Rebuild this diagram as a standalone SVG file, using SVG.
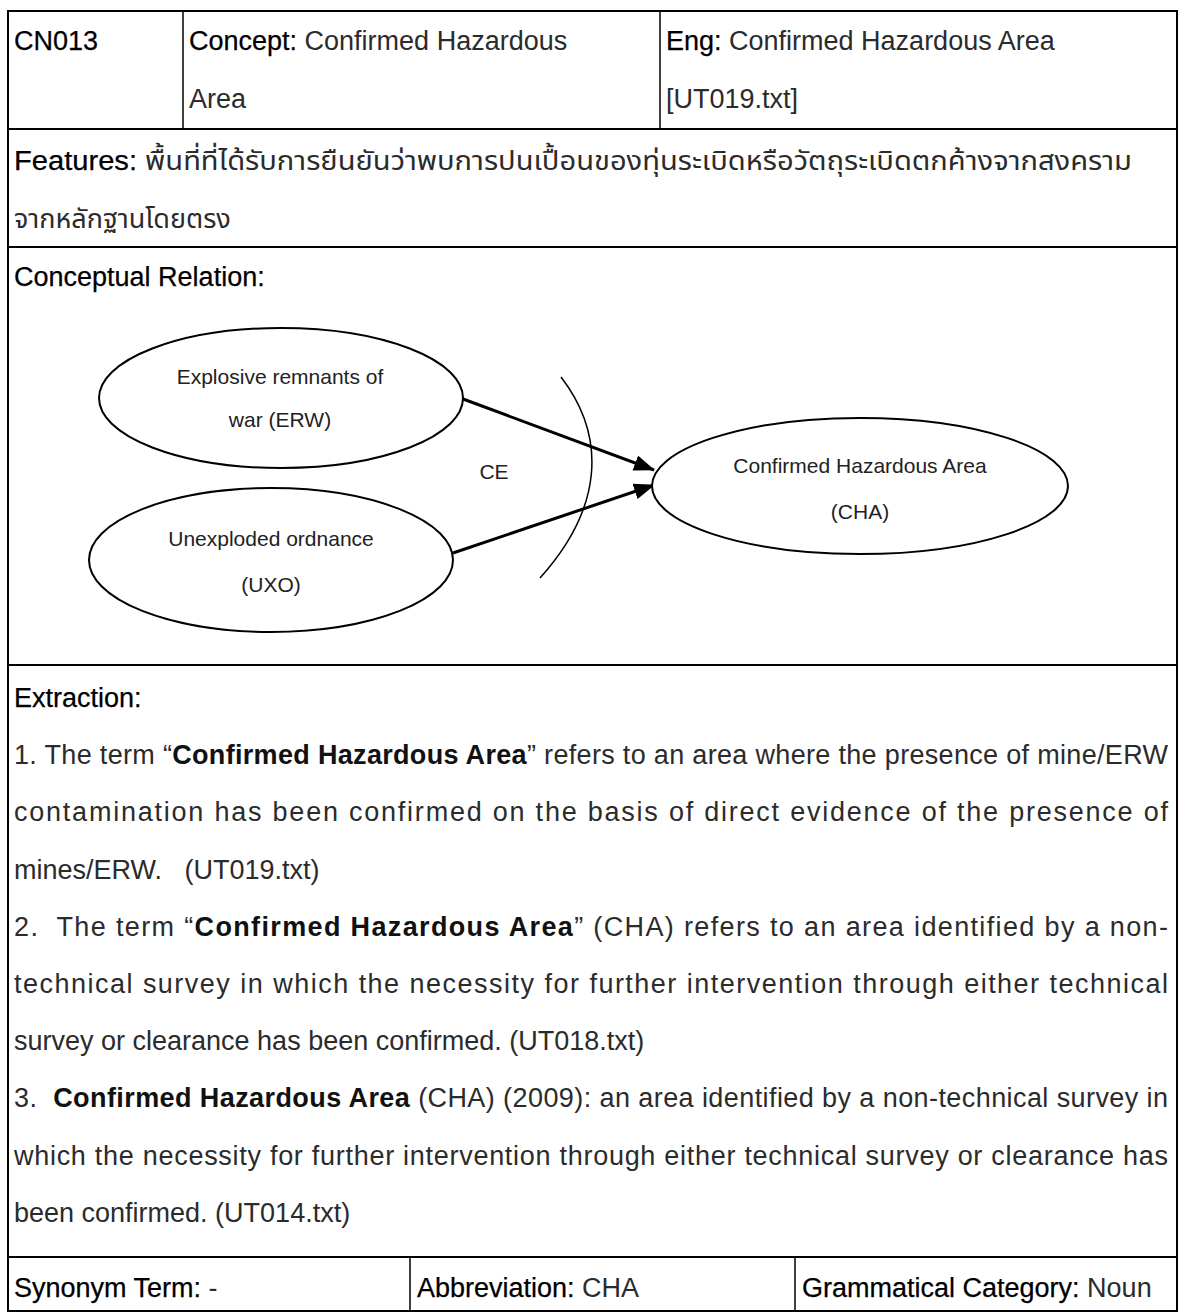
<svg xmlns="http://www.w3.org/2000/svg" width="1180" height="1313" viewBox="0 0 1180 1313">
  <style>
    .txt { font-family: "Liberation Sans", Arial, "Noto Sans Thai", "Noto Sans", "DejaVu Sans", sans-serif; font-size: 27px; fill: #2b2b2b; }
    .lbl { fill: #000; stroke: #000; stroke-width: 0.25; }
    .b { font-weight: bold; fill: #111; }
    .grid { stroke: #000; stroke-width: 2; fill: none; }
    .thin { stroke: #000; stroke-width: 1.5; fill: none; }
    .node ellipse { fill: #fff; stroke: #000; stroke-width: 2; }
    .node text, .mark { font-family: "Liberation Sans", Arial, sans-serif; font-size: 21px; fill: #222; text-anchor: middle; }
    .edge { stroke: #000; stroke-width: 3; fill: none; }
  </style>
  <defs>
    <marker id="arrow" markerUnits="userSpaceOnUse" markerWidth="22" markerHeight="16" refX="20" refY="8" orient="auto">
      <path d="M0,0 L21,8 L0,16 z" fill="#000"/>
    </marker>
  </defs>

  <rect width="1180" height="1313" fill="#fff"/>

  <!-- table frame -->
  <g id="table">
    <line class="grid" x1="8" y1="11" x2="1177" y2="11"/>
    <line class="grid" x1="8" y1="129" x2="1177" y2="129"/>
    <line class="grid" x1="8" y1="247" x2="1177" y2="247"/>
    <line class="grid" x1="8" y1="665" x2="1177" y2="665" stroke-width="3"/>
    <line class="grid" x1="8" y1="1257" x2="1177" y2="1257"/>
    <line class="grid" x1="8" y1="1311" x2="1177" y2="1311"/>
    <line class="grid" x1="8" y1="10" x2="8" y2="1312"/>
    <line class="grid" x1="1177" y1="10" x2="1177" y2="1312"/>
    <line class="thin" x1="183" y1="11" x2="183" y2="129"/>
    <line class="thin" x1="660" y1="11" x2="660" y2="129"/>
    <line class="thin" x1="410" y1="1257" x2="410" y2="1311"/>
    <line class="thin" x1="795" y1="1257" x2="795" y2="1311"/>
  </g>

  <!-- header row -->
  <g id="header">
    <text class="txt lbl" x="14" y="50">CN013</text>
    <text class="txt" x="189" y="50"><tspan class="lbl">Concept:</tspan> Confirmed Hazardous</text>
    <text class="txt" x="189" y="107.5">Area</text>
    <text class="txt" x="666" y="50"><tspan class="lbl">Eng:</tspan> Confirmed Hazardous Area</text>
    <text class="txt" x="666" y="107.5">[UT019.txt]</text>
  </g>

  <!-- features -->
  <g id="features">
    <text class="txt" x="14" y="170" textLength="1118" lengthAdjust="spacingAndGlyphs"><tspan class="lbl">Features:</tspan> พื้นที่ที่ได้รับการยืนยันว่าพบการปนเปื้อนของทุ่นระเบิดหรือวัตถุระเบิดตกค้างจากสงคราม</text>
    <text class="txt" x="14" y="228">จากหลักฐานโดยตรง</text>
  </g>

  <!-- conceptual relation -->
  <text class="txt lbl" x="14" y="286">Conceptual Relation:</text>

  <g id="connectors">
    <path class="thin" d="M561,377 C607,437 603,508 540,578"/>
    <line class="edge" x1="463" y1="399" x2="654" y2="470" marker-end="url(#arrow)"/>
    <line class="edge" x1="453" y1="553" x2="654" y2="485" marker-end="url(#arrow)"/>
    <text class="mark" x="494" y="479">CE</text>
  </g>

  <g id="node-erw" class="node">
    <ellipse cx="281" cy="398" rx="182" ry="70"/>
    <text x="280" y="384">Explosive remnants of</text>
    <text x="280" y="427">war (ERW)</text>
  </g>

  <g id="node-uxo" class="node">
    <ellipse cx="271" cy="560" rx="182" ry="72"/>
    <text x="271" y="546">Unexploded ordnance</text>
    <text x="271" y="592">(UXO)</text>
  </g>

  <g id="node-cha" class="node">
    <ellipse cx="860" cy="486" rx="208" ry="68"/>
    <text x="860" y="473">Confirmed Hazardous Area</text>
    <text x="860" y="519">(CHA)</text>
  </g>

  <!-- extraction -->
  <g id="extraction">
    <text class="txt lbl" x="14" y="707">Extraction:</text>
    <text class="txt" x="14" y="764.2" textLength="1154" lengthAdjust="spacing">1. The term “<tspan class="b">Confirmed Hazardous Area</tspan>” refers to an area where the presence of mine/ERW</text>
    <text class="txt" x="14" y="821.4" textLength="1154" lengthAdjust="spacing">contamination has been confirmed on the basis of direct evidence of the presence of</text>
    <text class="txt" x="14" y="878.6" xml:space="preserve">mines/ERW.   (UT019.txt)</text>
    <text class="txt" x="14" y="935.8" textLength="1154" lengthAdjust="spacing" xml:space="preserve">2.  The term “<tspan class="b">Confirmed Hazardous Area</tspan>” (CHA) refers to an area identified by a non-</text>
    <text class="txt" x="14" y="993" textLength="1154" lengthAdjust="spacing">technical survey in which the necessity for further intervention through either technical</text>
    <text class="txt" x="14" y="1050.2">survey or clearance has been confirmed. (UT018.txt)</text>
    <text class="txt" x="14" y="1107.4" textLength="1154" lengthAdjust="spacing" xml:space="preserve">3.  <tspan class="b">Confirmed Hazardous Area</tspan> (CHA) (2009): an area identified by a non-technical survey in</text>
    <text class="txt" x="14" y="1164.6" textLength="1154" lengthAdjust="spacing">which the necessity for further intervention through either technical survey or clearance has</text>
    <text class="txt" x="14" y="1221.8">been confirmed. (UT014.txt)</text>
  </g>

  <!-- bottom row -->
  <g id="footer">
    <text class="txt" x="14" y="1297"><tspan class="lbl">Synonym Term:</tspan> -</text>
    <text class="txt" x="417" y="1297"><tspan class="lbl">Abbreviation:</tspan> CHA</text>
    <text class="txt" x="802" y="1297"><tspan class="lbl">Grammatical Category:</tspan> Noun</text>
  </g>
</svg>
